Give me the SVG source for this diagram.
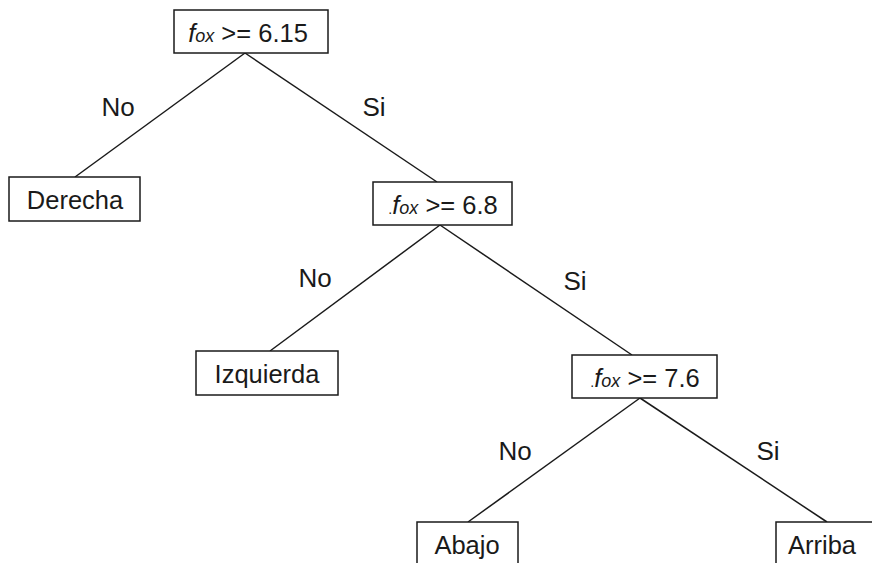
<svg xmlns="http://www.w3.org/2000/svg" width="872" height="563" viewBox="0 0 872 563">
  <style>
    .box { fill: #ffffff; stroke: #1a1a1a; stroke-width: 1.5; }
    .edge { stroke: #1a1a1a; stroke-width: 1.5; fill: none; }
    .t { font-family: "Liberation Sans", Arial, sans-serif; font-size: 25.5px; fill: #1a1a1a; text-anchor: middle; }
    .lbl { font-family: "Liberation Sans", Arial, sans-serif; font-size: 26px; fill: #1a1a1a; text-anchor: middle; }
    .fi { font-style: italic; }
    .sub { font-style: italic; font-size: 18px; }
  </style>
  <rect width="872" height="563" fill="#ffffff"/>

  <!-- connectors -->
  <g id="edges">
    <line class="edge" x1="245" y1="53" x2="75" y2="177"/>
    <line class="edge" x1="245" y1="53" x2="437" y2="182"/>
    <line class="edge" x1="440" y1="225" x2="270" y2="351"/>
    <line class="edge" x1="440" y1="225" x2="632" y2="355"/>
    <line class="edge" x1="640" y1="398" x2="468" y2="522"/>
    <line class="edge" x1="640" y1="398" x2="827" y2="522"/>
    <text class="lbl" x="118" y="116">No</text>
    <text class="lbl" x="374" y="116">Si</text>
    <text class="lbl" x="315" y="287">No</text>
    <text class="lbl" x="575" y="290">Si</text>
    <text class="lbl" x="515" y="460">No</text>
    <text class="lbl" x="768" y="460">Si</text>
  </g>

  <!-- decision nodes -->
  <g id="node-root">
    <rect class="box" x="174" y="10" width="154" height="43"/>
    <text class="t" x="248" y="42"><tspan class="fi">f</tspan><tspan class="sub">ox</tspan> &gt;= 6.15</text>
  </g>
  <g id="node-68">
    <rect class="box" x="373" y="182" width="139" height="43"/>
    <text class="t" x="443" y="214"><tspan font-size="14px">.</tspan><tspan class="fi">f</tspan><tspan class="sub">ox</tspan> &gt;= 6.8</text>
  </g>
  <g id="node-76">
    <rect class="box" x="572" y="355" width="145" height="43"/>
    <text class="t" x="645" y="387"><tspan font-size="14px">.</tspan><tspan class="fi">f</tspan><tspan class="sub">ox</tspan> &gt;= 7.6</text>
  </g>

  <!-- leaf nodes -->
  <g id="leaf-derecha">
    <rect class="box" x="9" y="177" width="131" height="44"/>
    <text class="t" x="75" y="209">Derecha</text>
  </g>
  <g id="leaf-izquierda">
    <rect class="box" x="196" y="351" width="142" height="44"/>
    <text class="t" x="267" y="383">Izquierda</text>
  </g>
  <g id="leaf-abajo">
    <rect class="box" x="417" y="522" width="101" height="50"/>
    <text class="t" x="467" y="554">Abajo</text>
  </g>
  <g id="leaf-arriba">
    <rect class="box" x="776" y="522" width="110" height="50"/>
    <text class="t" x="822" y="554">Arriba</text>
  </g>
</svg>
